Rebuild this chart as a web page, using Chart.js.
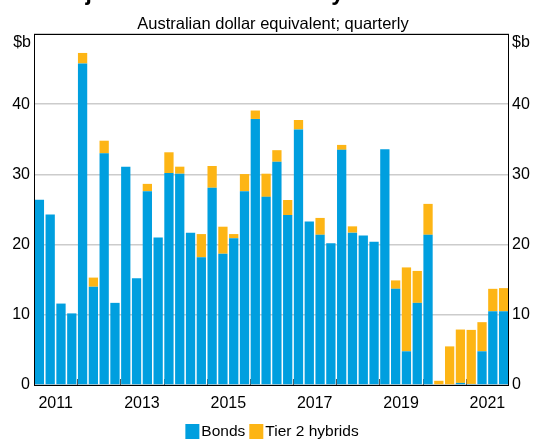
<!DOCTYPE html>
<html>
<head>
<meta charset="utf-8">
<script src="https://cdn.jsdelivr.net/npm/chart.js@4/dist/chart.umd.min.js"></script>
<style>
html,body{margin:0;padding:0;background:#fff;}
#wrap{width:540px;height:439px;position:relative;}
</style>
</head>
<body>
<div id="wrap"><canvas id="c" width="540" height="439"></canvas></div>
<script>
const titleText = "Major Banks' Bond and Hybrid Issuance";
const subtitleText = "Australian dollar equivalent; quarterly";
const unitLabel = "$b";
const years = ['2011','2012','2013','2014','2015','2016','2017','2018','2019','2020','2021'];
const quarters = ['Q1','Q2','Q3','Q4'];
const yearTickLabels = ['2011','2013','2015','2017','2019','2021'];
const seriesNames = ['Bonds','Tier 2 hybrids'];
const seriesColors = ['#009fdf','#fdb515'];

const bonds = [26.4,24.3,11.6,10.2, 45.8,14.0,33.0,11.7, 31.1,15.2,27.6,21.0, 30.2,30.1,21.7,18.2,
               28.1,18.7,20.9,27.6, 37.9,26.8,31.8,24.2, 36.4,23.3,21.4,20.2, 33.5,21.7,21.3,20.4,
               33.6,13.7,4.8,11.7, 21.4,0,0,0.3, 0.15,4.8,10.5,10.5];
const tier2 = [0,0,0,0, 1.5,1.3,1.8,0, 0,0,1.05,0, 2.95,1.0,0,3.3,
               3.1,3.85,0.6,2.45, 1.2,3.3,1.65,2.15, 1.35,0,2.4,0, 0.7,0.9,0,0,
               0,1.2,11.95,4.55, 4.4,0.6,5.5,7.6, 7.7,4.15,3.2,3.3];

const categories = [];
years.forEach(y => quarters.forEach(q => categories.push(y + ' ' + q)));

const FONT = "'Liberation Sans', Arial, sans-serif";

const decor = {
  id: 'decor',
  beforeDatasetsDraw(chart) {
    const {ctx, chartArea: a, scales: {x}} = chart;
    ctx.save();
    ctx.strokeStyle = '#555';
    ctx.lineWidth = 1;
    for (let k = 1; k < years.length; k++) {
      const px = Math.round((x.getPixelForValue(4*k-1) + x.getPixelForValue(4*k)) / 2) + 0.5;
      ctx.beginPath();
      ctx.moveTo(px, a.bottom);
      ctx.lineTo(px, a.bottom - 6);
      ctx.stroke();
    }
    ctx.restore();
  },
  afterDraw(chart) {
    const {ctx, chartArea: a} = chart;
    ctx.save();
    ctx.strokeStyle = '#000';
    ctx.lineWidth = 1;
    ctx.strokeRect(Math.round(a.left) + 0.5, Math.round(a.top) + 0.5, Math.round(a.right - a.left) - 1, Math.round(a.bottom - a.top));
    ctx.fillStyle = '#000';
    ctx.textAlign = 'center';
    ctx.textBaseline = 'alphabetic';
    ctx.font = 'bold 23px ' + FONT;
    ctx.fillText(titleText, 273, -0.5);
    ctx.font = '16.5px ' + FONT;
    ctx.fillText(subtitleText, 273, 29);
    ctx.font = '16px ' + FONT;
    ctx.textBaseline = 'middle';
    ctx.textAlign = 'right';
    ctx.fillText(unitLabel, a.left - 3, 43);
    ctx.textAlign = 'left';
    ctx.fillText(unitLabel, a.right + 3, 43);
    ctx.font = '15.5px ' + FONT;
    const box = 14, gapT = 2, gapI = 4;
    const widths = seriesNames.map(n => ctx.measureText(n).width);
    let total = 0;
    widths.forEach((w, i) => { total += box + gapT + w + (i ? gapI : 0); });
    let lx = 272 - total / 2;
    const ly = 424;
    seriesNames.forEach((n, i) => {
      ctx.fillStyle = seriesColors[i];
      ctx.fillRect(lx, ly, box, box + 1);
      ctx.fillStyle = '#000';
      ctx.textAlign = 'left';
      ctx.textBaseline = 'middle';
      ctx.fillText(n, lx + box + gapT, ly + box / 2 + 1);
      lx += box + gapT + widths[i] + gapI;
    });
    ctx.restore();
  }
};

new Chart(document.getElementById('c'), {
  type: 'bar',
  data: {
    labels: categories,
    datasets: [
      {label: seriesNames[0], data: bonds, backgroundColor: seriesColors[0], stack: 's', barPercentage: 0.86, categoryPercentage: 1.0, yAxisID: 'y'},
      {label: seriesNames[1], data: tier2, backgroundColor: seriesColors[1], stack: 's', barPercentage: 0.86, categoryPercentage: 1.0, yAxisID: 'y'}
    ]
  },
  options: {
    responsive: false,
    animation: false,
    devicePixelRatio: 1,
    layout: {padding: {top: 34, bottom: 0, left: 0, right: 0}},
    plugins: {legend: {display: false}, tooltip: {enabled: false}, title: {display: false}},
    scales: {
      x: {
        stacked: true,
        grid: {display: false, drawTicks: false},
        border: {display: false},
        afterFit(s) { s.height = 54; },
        ticks: {
          autoSkip: false,
          maxRotation: 0,
          minRotation: 0,
          padding: 9,
          color: '#000',
          font: {family: FONT, size: 16},
          labelOffset: 5.4,
          callback(v, i) {
            if (i % 8 === 1) return yearTickLabels[(i - 1) / 8];
            return '';
          }
        }
      },
      y: {
        stacked: true,
        position: 'left',
        min: 0, max: 50,
        afterFit(s) { s.width = 34; },
        grid: {color: '#cccccc', lineWidth: 1.5, drawTicks: false},
        border: {display: false},
        ticks: {
          stepSize: 10, padding: 4, color: '#000',
          font: {family: FONT, size: 16},
          callback(v) { return v === 50 ? '' : v; }
        }
      },
      y2: {
        position: 'right',
        min: 0, max: 50,
        afterFit(s) { s.width = 31; },
        grid: {display: false, drawTicks: false},
        border: {display: false},
        ticks: {
          stepSize: 10, padding: 3, color: '#000',
          font: {family: FONT, size: 16},
          callback(v) { return v === 50 ? '' : v; }
        }
      }
    }
  },
  plugins: [decor]
});
</script>
</body>
</html>
